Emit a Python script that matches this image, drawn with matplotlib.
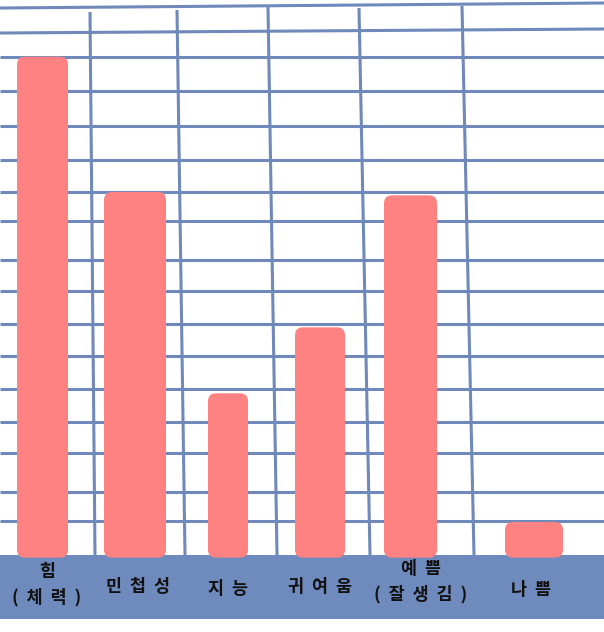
import matplotlib.pyplot as plt
from matplotlib.patches import FancyBboxPatch, Rectangle

plt.rcParams['font.family'] = ['Noto Sans CJK KR', 'DejaVu Sans']

# data
categories = ["힘\n(체력)", "민첩성", "지능", "귀여움", "예쁨\n(잘생김)", "나쁨"]
values = [15.1, 11.0, 4.9, 6.9, 10.9, 1.0]

# layout (pixels of the 604x632 canvas)
W, H = 604, 632
base_px = 555          # top of the blue band = value 0
unit_px = 33           # one grid step
bar_left = [17, 104, 208, 295, 384, 505]
bar_width = [51, 62, 40, 50, 53, 58]
label_x = [47, 138, 228, 320, 421, 531]
label_y = [585, 587, 589, 587, 582, 590]

# hand drawn grid: horizontal (y at left, y at right), vertical (x top, y top, x bottom)
h_lines = [(8, 3), (33, 29), (57, 57), (91, 91), (126, 126), (160, 160), (192, 192),
           (221, 221), (260, 260), (291, 291), (324, 324), (356, 356), (389, 389),
           (422, 422), (453, 453), (492, 492), (521, 521)]
v_lines = [(90, 12, 95), (177, 10, 185), (268, 7, 277), (359, 8, 370), (462, 6, 474)]

grid_col = '#6f89ba'
band_col = '#6f8abd'
bar_col = '#ff8282'

fig = plt.figure(figsize=(W / 100, H / 100), dpi=100)

# paper: grid and band in pixel coordinates
bg = fig.add_axes([0, 0, 1, 1])
bg.set_xlim(0, W)
bg.set_ylim(H, 0)
bg.axis('off')
for yl, yr in h_lines:
    bg.plot([0, W], [yl, yr], color=grid_col, lw=2.2, solid_capstyle='butt')
for xt, yt, xb in v_lines:
    bg.plot([xt, xb], [yt, base_px], color=grid_col, lw=2.2, solid_capstyle='butt')
bg.add_patch(Rectangle((0, base_px), W, 64, color=band_col, lw=0, zorder=3))

# chart: bars in value units
ax = fig.add_axes([0, 0, 1, 1])
ax.set_xlim(0, W)
ax.set_ylim(-(H - base_px) / unit_px, base_px / unit_px)
ax.axis('off')
bottom = -0.08
for x, w, v in zip(bar_left, bar_width, values):
    ax.add_patch(FancyBboxPatch((x, bottom), w, v - bottom,
                                boxstyle="round,pad=0,rounding_size=8",
                                mutation_aspect=1 / unit_px,
                                fc=bar_col, ec='none'))

for lab, x, y in zip(categories, label_x, label_y):
    txt = "\n".join("  ".join(part) for part in lab.split("\n"))
    ax.text(x, y, txt, transform=bg.transData, ha='center', va='center',
            multialignment='center', fontsize=12.5, fontweight='bold',
            color='#111111', linespacing=1.5)

fig.savefig('out.png', dpi=100)
